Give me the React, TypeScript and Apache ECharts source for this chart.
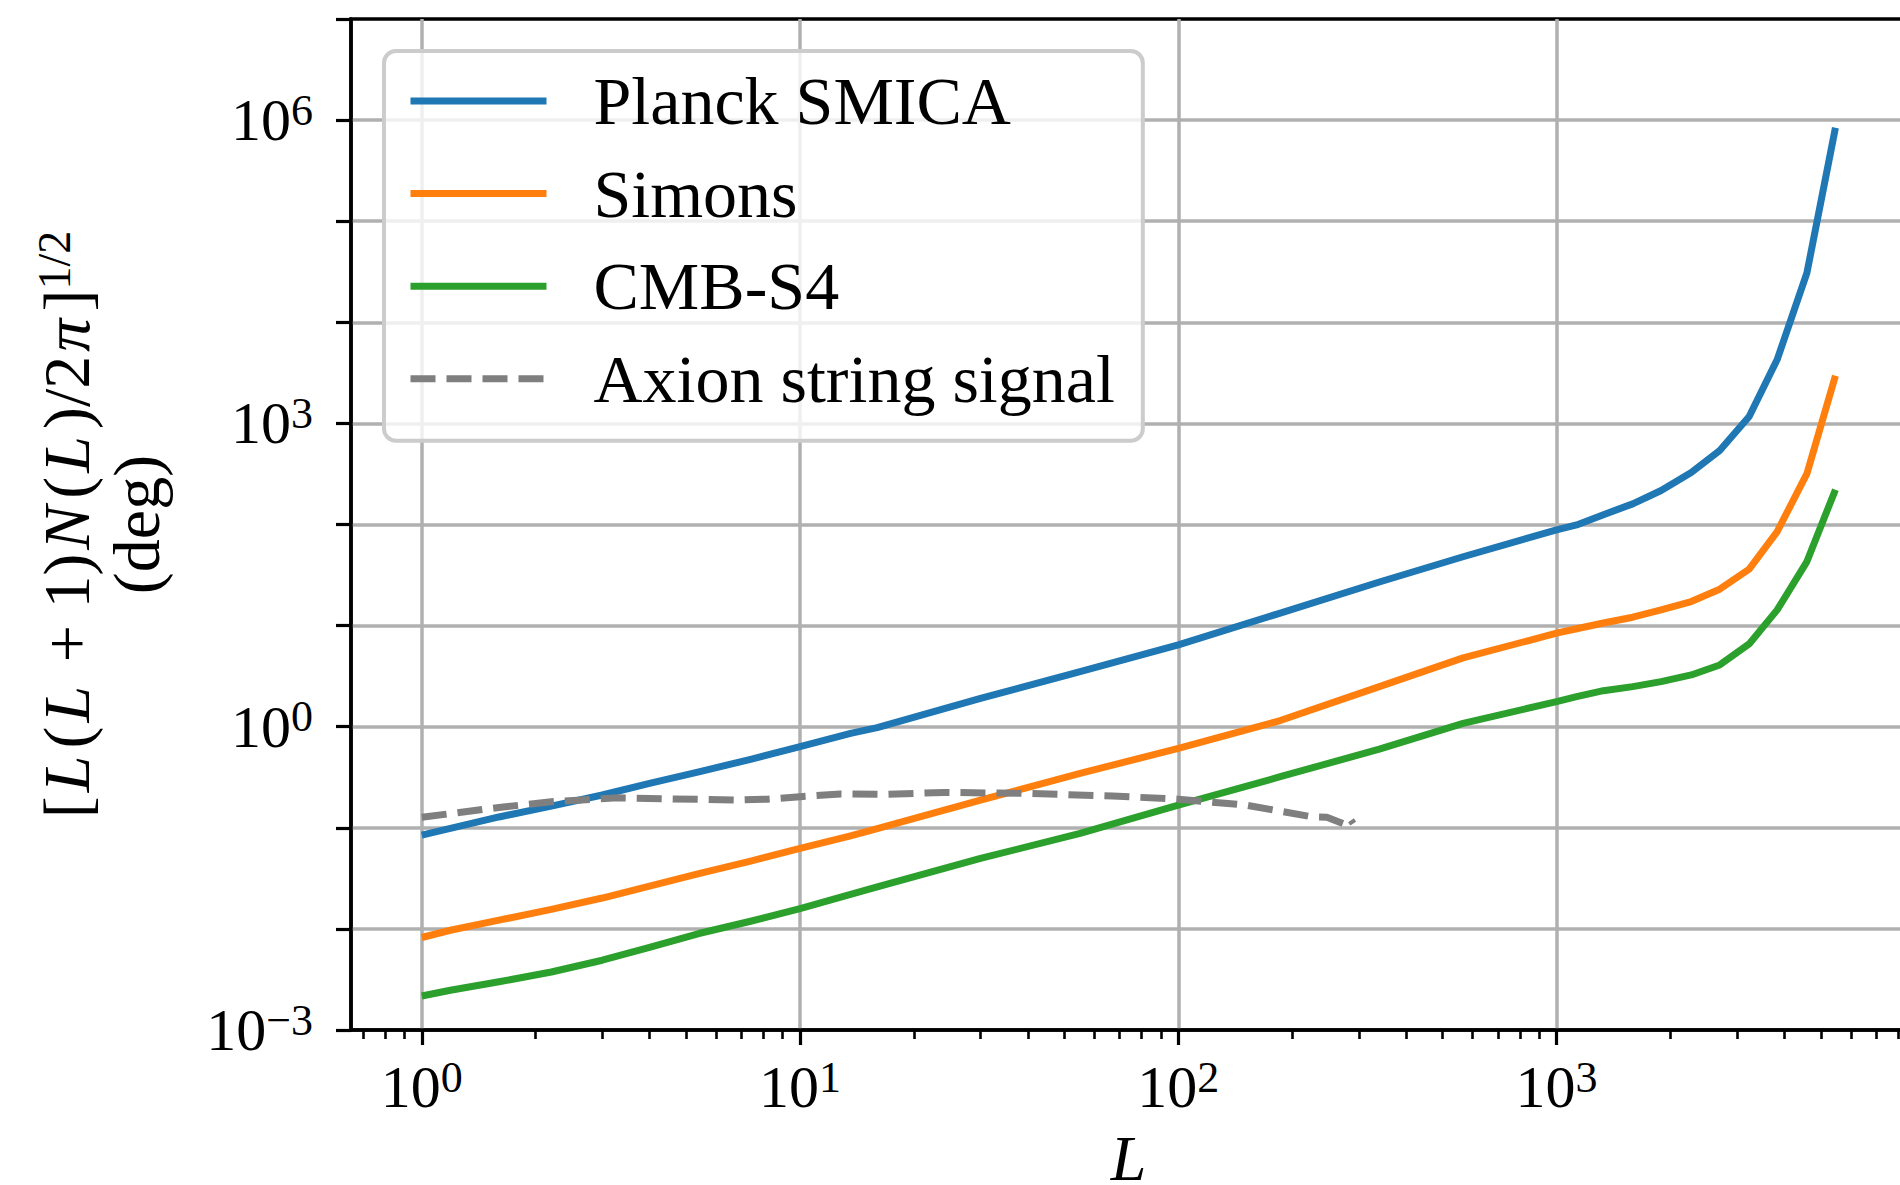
import React, { useEffect, useRef } from "react";
import * as echarts from "echarts";

// ---- data ----
const L_GRID = [1, 1.19, 1.6, 2.2, 3, 4, 5.4, 7.4, 10, 13.6, 16, 30, 55, 100, 186, 340, 566, 1000, 1130, 1330, 1590, 1890, 2270, 2700, 3230, 3830, 4590, 5460];
const PLANCK_SMICA = [0.0847, 0.0986, 0.128, 0.164, 0.211, 0.275, 0.358, 0.475, 0.634, 0.86, 0.98, 1.91, 3.5, 6.44, 13.3, 27, 48, 88.5, 99, 125, 160, 217, 327, 540, 1170, 4280, 30800, 840000];
const SIMONS = [0.00822, 0.0097, 0.0122, 0.0156, 0.0202, 0.0265, 0.0353, 0.0468, 0.0625, 0.0834, 0.098, 0.188, 0.345, 0.611, 1.15, 2.49, 4.8, 8.41, 9.3, 10.6, 12.1, 14.3, 17.3, 22.9, 36.2, 85, 318, 2965];
const CMB_S4 = [0.00217, 0.00247, 0.003, 0.00375, 0.0049, 0.00655, 0.009, 0.0119, 0.0159, 0.0219, 0.026, 0.0498, 0.088, 0.168, 0.32, 0.6, 1.08, 1.77, 1.98, 2.27, 2.49, 2.79, 3.25, 4.08, 6.59, 14.3, 43, 221];

const AXION_L = [1, 1.6, 2.2, 3.3, 5.4, 6.7, 8.2, 10, 12.8, 16.6, 24, 40, 67, 100, 150, 227, 247, 273, 284, 290];
const AXION_SIGNAL = [0.127, 0.159, 0.181, 0.198, 0.191, 0.188, 0.192, 0.203, 0.216, 0.214, 0.224, 0.219, 0.206, 0.192, 0.168, 0.128, 0.127, 0.11, 0.124, 0.11];

const SERIES_NAMES = ["Planck SMICA", "Simons", "CMB-S4", "Axion string signal"];
const COLORS = ["#1f77b4", "#ff7f0e", "#2ca02c", "#7f7f7f"];

const X_MIN = 0.65;
const X_MAX = 8390;
const Y_MIN = 1e-3;
const Y_MAX = 1e7;
const X_MAJOR_TICKS = [1, 10, 100, 1000];
const X_MINOR_TICKS = [
  0.7, 0.8, 0.9,
  2, 3, 4, 5, 6, 7, 8, 9,
  20, 30, 40, 50, 60, 70, 80, 90,
  200, 300, 400, 500, 600, 700, 800, 900,
  2000, 3000, 4000, 5000, 6000, 7000, 8000,
];
const Y_TICKS = [1e-3, 1e-2, 1e-1, 1, 10, 100, 1e3, 1e4, 1e5, 1e6, 1e7];
const X_LABELED = [1, 10, 100, 1000];
const Y_LABELED = [1e-3, 1, 1e3, 1e6];

const FONT = "Liberation Serif";

const supText = (e: number) => (e < 0 ? "\u2212" + -e : String(e));
const makeFormatter = (allowed: number[]) => (v: number) => {
  const lg = Math.log10(v);
  const e = Math.round(lg);
  if (Math.abs(lg - e) > 1e-6) return "";
  if (!allowed.some((a) => Math.abs(Math.log10(a) - e) < 1e-6)) return "";
  return `{b|10}{s|${supText(e)}}`;
};

const tickRich = {
  b: { fontFamily: FONT, fontStyle: "normal", fontWeight: "normal", fontSize: 60, color: "#000", lineHeight: 64 },
  s: { fontFamily: FONT, fontStyle: "normal", fontWeight: "normal", fontSize: 44, color: "#000", verticalAlign: "top", lineHeight: 42 },
};

export default function App() {
  const ref = useRef<HTMLDivElement>(null);
  useEffect(() => {
    document.body.style.margin = "0";
    document.body.style.overflow = "hidden";
    const chart = echarts.init(ref.current!, null, { renderer: "svg", width: 1900, height: 1185 });

    const lineSeries = (name: string, xs: number[], ys: number[], color: string, dashed: boolean) => ({
      name,
      type: "line",
      data: xs.map((x, i) => [x, ys[i]]),
      symbol: "none",
      showSymbol: false,
      smooth: false,
      xAxisIndex: 0,
      yAxisIndex: 0,
      itemStyle: { color },
      lineStyle: {
        color,
        width: 7,
        type: dashed ? [25, 11] : "solid",
        cap: "butt",
        join: "round",
      },
      emphasis: { disabled: true },
    });

    const option: any = {
      animation: false,
      backgroundColor: "#ffffff",
      textStyle: { fontFamily: FONT, fontStyle: "normal", fontWeight: "normal" },
      grid: {
        left: 351,
        top: 19,
        width: 1555,
        height: 1011,
        show: true,
        borderColor: "#000",
        borderWidth: 3.5,
        backgroundColor: "transparent",
        containLabel: false,
        outerBoundsMode: "none",
      },
      xAxis: [
        {
          type: "log",
          logBase: 10,
          min: X_MIN,
          max: X_MAX,
          position: "bottom",
          name: "L",
          nameLocation: "middle",
          nameGap: 96,
          nameMoveOverlap: false,
          nameTextStyle: { fontFamily: FONT, fontSize: 64, fontStyle: "italic", fontWeight: "normal", color: "#000" },
          axisLine: { show: true, lineStyle: { color: "#000", width: 3.5 } },
          axisTick: {
            show: true,
            inside: false,
            length: 15,
            lineStyle: { color: "#000", width: 3.2 },
            customValues: X_MAJOR_TICKS,
          },
          minorTick: { show: false },
          axisLabel: {
            show: true,
            margin: 25,
            fontFamily: FONT,
            fontStyle: "normal",
            fontWeight: "normal",
            fontSize: 60,
            color: "#000",
            customValues: X_LABELED,
            formatter: makeFormatter(X_LABELED),
            rich: tickRich,
          },
          splitLine: {
            show: true,
            lineStyle: { color: "#b0b0b0", width: 3.5 },
          },
        },
        {
          type: "log",
          logBase: 10,
          min: X_MIN,
          max: X_MAX,
          position: "bottom",
          offset: 0,
          axisLine: { show: false },
          axisTick: {
            show: true,
            inside: false,
            length: 9,
            lineStyle: { color: "#000", width: 2.6 },
            customValues: X_MINOR_TICKS,
          },
          axisLabel: { show: false },
          splitLine: { show: false },
        },
      ],
      yAxis: {
        type: "log",
        logBase: 10,
        min: Y_MIN,
        max: Y_MAX,
        interval: 1,
        splitNumber: 10,
        name:
          "{n|[}{i|L}{n|(}{i|L}{n| + 1)}{i|N}{n|(}{i|L}{n|)/2}{i|\u03c0}{n|]}{s|1/2}\n{n|(deg)}",
        nameLocation: "middle",
        nameRotate: 90,
        nameGap: 180,
        nameMoveOverlap: false,
        nameTextStyle: {
          fontFamily: FONT,
          fontStyle: "normal",
          fontWeight: "normal",
          fontSize: 66,
          color: "#000",
          lineHeight: 70,
          rich: {
            n: { fontFamily: FONT, fontStyle: "normal", fontWeight: "normal", fontSize: 66, color: "#000", lineHeight: 70 },
            i: { fontFamily: FONT, fontStyle: "italic", fontWeight: "normal", fontSize: 66, color: "#000", lineHeight: 70, padding: [0, 7, 0, 4] },
            s: { fontFamily: FONT, fontStyle: "normal", fontWeight: "normal", fontSize: 46, color: "#000", verticalAlign: "top", lineHeight: 46 },
          },
        },
        axisLine: { show: true, lineStyle: { color: "#000", width: 3.5 } },
        axisTick: {
          show: true,
          inside: false,
          length: 15,
          lineStyle: { color: "#000", width: 3.2 },
          customValues: Y_TICKS,
        },
        minorTick: { show: false },
        axisLabel: {
          show: true,
          margin: 38,
          fontFamily: FONT,
          fontStyle: "normal",
          fontWeight: "normal",
          fontSize: 60,
          color: "#000",
          customValues: Y_LABELED,
          formatter: makeFormatter(Y_LABELED),
          rich: tickRich,
        },
        splitLine: {
          show: true,
          showMinLine: false,
          showMaxLine: false,
          lineStyle: { color: "#b0b0b0", width: 3.5 },
        },
      },
      legend: {
        show: true,
        orient: "vertical",
        left: 384,
        top: 51,
        padding: [16, 28, 28, 23],
        itemWidth: 136,
        itemHeight: 2,
        itemGap: 24.6,
        backgroundColor: "rgba(255,255,255,0.8)",
        borderColor: "#cccccc",
        borderWidth: 4,
        borderRadius: 12,
        selectedMode: false,
        itemStyle: { opacity: 0, borderWidth: 0 },
        lineStyle: { width: 7 },
        textStyle: {
          fontFamily: FONT,
          fontStyle: "normal",
          fontWeight: "normal",
          fontSize: 68,
          lineHeight: 66,
          color: "#000",
          padding: [0, 0, 0, 42],
        },
        data: SERIES_NAMES,
      },
      series: [
        lineSeries(SERIES_NAMES[0], L_GRID, PLANCK_SMICA, COLORS[0], false),
        lineSeries(SERIES_NAMES[1], L_GRID, SIMONS, COLORS[1], false),
        lineSeries(SERIES_NAMES[2], L_GRID, CMB_S4, COLORS[2], false),
        lineSeries(SERIES_NAMES[3], AXION_L, AXION_SIGNAL, COLORS[3], true),
      ],
    };

    chart.setOption(option);
    return () => chart.dispose();
  }, []);

  return <div ref={ref} style={{ width: 1900, height: 1185, background: "#fff" }} />;
}
